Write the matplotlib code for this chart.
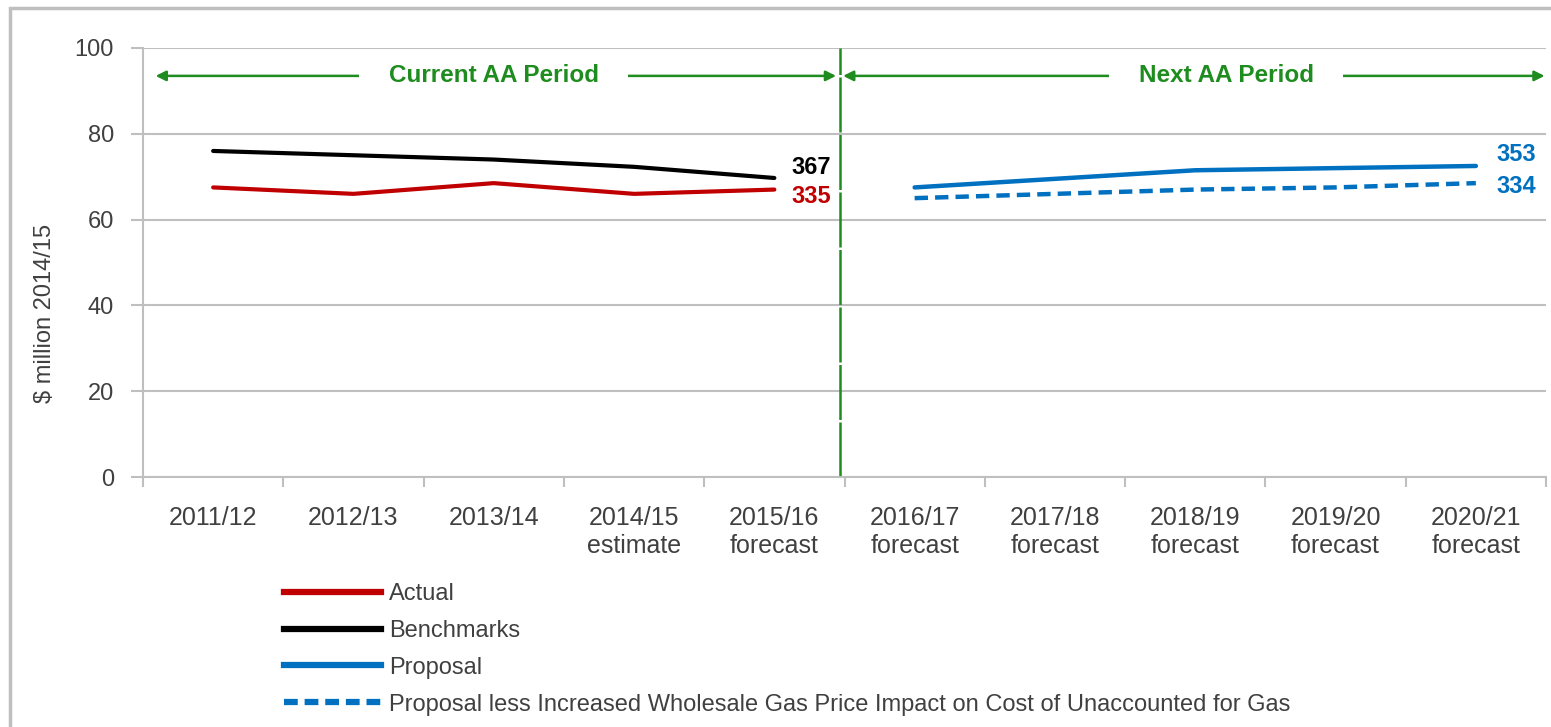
"""Gas cost chart: current vs next access arrangement period."""

import matplotlib

matplotlib.use("Agg")

import matplotlib.pyplot as plt
from matplotlib import font_manager
from matplotlib.lines import Line2D
from matplotlib.patches import Rectangle

# ---- data -------------------------------------------------------------
years = ["2011/12", "2012/13", "2013/14", "2014/15\nestimate", "2015/16\nforecast",
         "2016/17\nforecast", "2017/18\nforecast", "2018/19\nforecast",
         "2019/20\nforecast", "2020/21\nforecast"]
actual = [67.5, 66.0, 68.5, 66.0, 67.0]
benchmarks = [76.0, 75.0, 74.0, 72.3, 69.7]
proposal = [67.5, 69.5, 71.5, 72.0, 72.5]
proposal_less = [65.0, 66.0, 67.0, 67.5, 68.5]
totals = {"Benchmarks": "367", "Actual": "335", "Proposal": "353", "Proposal less": "334"}
y_ticks = [0, 20, 40, 60, 80, 100]

# ---- style ------------------------------------------------------------
RED = "#C00000"
BLACK = "#000000"
BLUE = "#0070C0"
GREEN = "#1E8C1E"
GRID = "#BFBFBF"
TEXT = "#404040"

available = {f.name for f in font_manager.fontManager.ttflist}
FONT = "Liberation Sans Narrow" if "Liberation Sans Narrow" in available else "Liberation Sans"
plt.rcParams["font.family"] = [FONT, "DejaVu Sans"]

fig = plt.figure(figsize=(15.51, 7.27), dpi=100, facecolor="white")
ax = fig.add_axes([143 / 1551, 1 - 477 / 727, (1546 - 143) / 1551, (477 - 48) / 727])

# outer frame
fig.patches.append(Rectangle((10 / 1551, -0.1), 1.2, 1 - 8 / 727 + 0.1, transform=fig.transFigure,
                             fill=False, edgecolor=GRID, linewidth=2.5))

current_x = list(range(0, 5))
next_x = list(range(5, 10))

ax.plot(current_x, actual, color=RED, linewidth=3, solid_capstyle="round")
ax.plot(current_x, benchmarks, color=BLACK, linewidth=3, solid_capstyle="round")
ax.plot(next_x, proposal, color=BLUE, linewidth=3.2, solid_capstyle="round")
ax.plot(next_x, proposal_less, color=BLUE, linewidth=3.2, dashes=(3, 1.6))

# end labels
label_kw = dict(textcoords="offset pixels", ha="left", va="center", fontsize=17, fontweight="bold")
ax.annotate(totals["Benchmarks"], (current_x[-1], benchmarks[-1]), xytext=(17, 10), color=BLACK, **label_kw)
ax.annotate(totals["Actual"], (current_x[-1], actual[-1]), xytext=(17, -7), color=RED, **label_kw)
ax.annotate(totals["Proposal"], (next_x[-1], proposal[-1]), xytext=(21, 11), color=BLUE, **label_kw)
ax.annotate(totals["Proposal less"], (next_x[-1], proposal_less[-1]), xytext=(21, -3), color=BLUE, **label_kw)

# period divider and arrows
boundary = 4.5
ax.axvline(boundary - 0.035, color=GREEN, linewidth=1.8, dashes=(22, 1.0))
arrow_y = 93.5
arrow_kw = dict(arrowstyle="<|-|>", color=GREEN, linewidth=1.8, mutation_scale=15,
                shrinkA=0, shrinkB=0)
ax.annotate("", xy=(-0.41, arrow_y), xytext=(boundary - 0.06, arrow_y), arrowprops=arrow_kw)
ax.annotate("", xy=(boundary - 0.01, arrow_y), xytext=(9.49, arrow_y), arrowprops=arrow_kw)
period_kw = dict(ha="center", va="center", color=GREEN, fontsize=17.5, fontweight="bold",
                 bbox=dict(facecolor="white", edgecolor="none", pad=2))
ax.text(2.0, arrow_y, "    Current AA Period    ", **period_kw)
ax.text(7.22, arrow_y, "    Next AA Period    ", **period_kw)

# axes styling
ax.set_xlim(-0.5, 9.5)
ax.set_ylim(0, 100)
ax.set_yticks(y_ticks)
ax.set_xticks(range(len(years)), years)
ax.set_xticks([i - 0.5 for i in range(len(years) + 1)], minor=True)
ax.tick_params(axis="x", which="major", length=0, pad=21, labelsize=18, labelcolor=TEXT)
ax.tick_params(axis="x", which="minor", length=7, width=1.5, color=GRID)
ax.tick_params(axis="y", length=9, width=1.5, color=GRID, pad=12, labelsize=17, labelcolor=TEXT)
ax.grid(axis="y", color=GRID, linewidth=1.5)
ax.set_axisbelow(True)
for side in ("top", "right"):
    ax.spines[side].set_visible(False)
for side in ("left", "bottom"):
    ax.spines[side].set_color(GRID)
    ax.spines[side].set_linewidth(1.5)

fig.text(45 / 1551, 1 - 313 / 727, "$ million 2014/15", rotation=90, ha="center", va="center",
         fontsize=17, color=TEXT)

# legend
handles = [
    Line2D([], [], color=RED, linewidth=4.5),
    Line2D([], [], color=BLACK, linewidth=4.5),
    Line2D([], [], color=BLUE, linewidth=4.5),
    Line2D([], [], color=BLUE, linewidth=4.5, dashes=(2.2, 1.1)),
]
names = ["Actual", "Benchmarks", "Proposal",
         "Proposal less Increased Wholesale Gas Price Impact on Cost of Unaccounted for Gas"]
fig.legend(handles, names, loc="upper left", bbox_to_anchor=(284 / 1551, 1 - 583 / 727),
           frameon=False, fontsize=17, labelcolor=TEXT, handlelength=4.1,
           handletextpad=0.34, labelspacing=0.63, borderpad=0, borderaxespad=0)

fig.savefig("out.png", dpi=100, facecolor="white")
